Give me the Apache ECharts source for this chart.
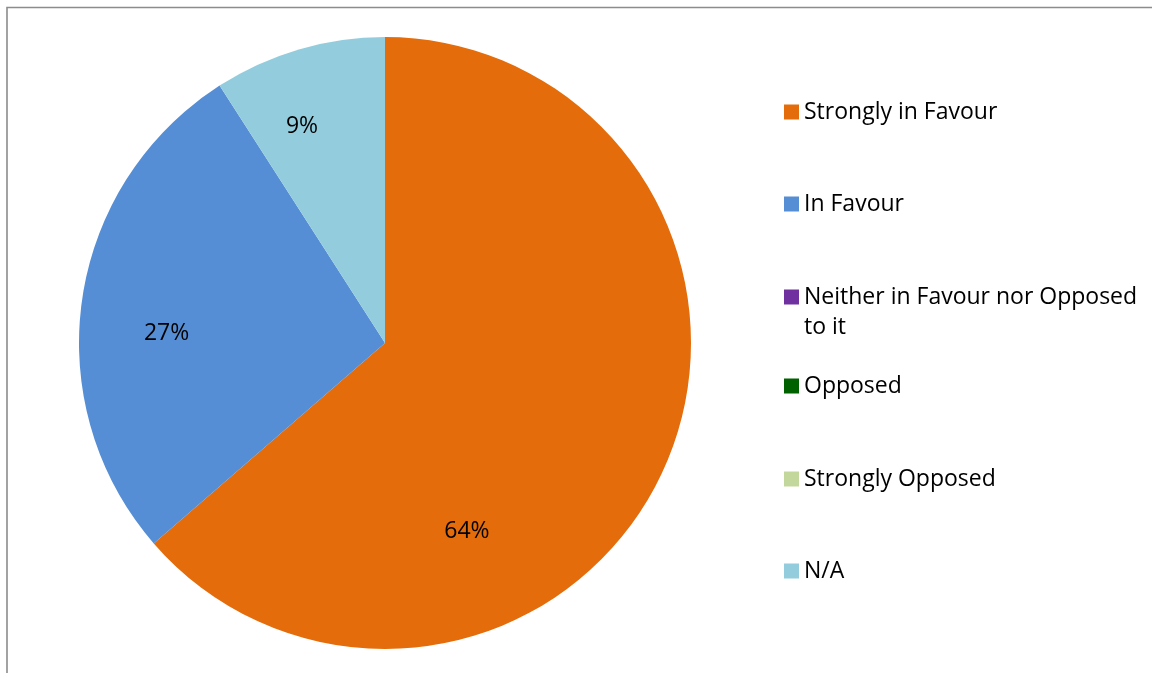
<!DOCTYPE html>
<html>
<head>
<meta charset="utf-8">
<script src="https://cdn.jsdelivr.net/npm/echarts@6/dist/echarts.min.js"></script>
<style>
  html, body { margin: 0; padding: 0; background: #fff; }
  #chart { width: 1152px; height: 673px; }
</style>
</head>
<body>
<div id="chart"></div>
<script>
const categories = ['Strongly in Favour', 'In Favour', 'Neither in Favour nor Opposed to it', 'Opposed', 'Strongly Opposed', 'N/A'];
const counts = [70, 30, 0, 0, 0, 10];
const colors = ['#E46C0A', '#558ED5', '#7030A0', '#006100', '#C3D69B', '#93CDDD'];

// legend rows - Excel puts each one at its own slot
const legendTops = [97, 189, 252, 371, 464, 556];

const chart = echarts.init(document.getElementById('chart'));

const txt = { fontFamily: 'Open Sans', fontSize: 23, color: '#000', lineHeight: 30 };

// nudges so the % labels sit roughly where Excel's best-fit put them
const labelNudge = { 0: [-60, 124], 1: [-64, 13], 5: [-39, -67] };

const option = {
  animation: false,
  backgroundColor: '#fff',
  color: colors,
  graphic: [{
    type: 'rect',
    shape: { x: 7, y: 7.5, width: 1300, height: 900 },
    style: { fill: 'none', stroke: '#8c8c8c', lineWidth: 1.6 },
    silent: true
  }],
  legend: categories.map((name, i) => ({
    data: [name],
    orient: 'vertical',
    left: 784,
    top: legendTops[i],
    padding: 0,
    icon: 'rect',
    itemWidth: 15,
    itemHeight: 15,
    selectedMode: false,
    textStyle: txt,
    formatter: n => n === categories[2] ? ' \nNeither in Favour nor Opposed\nto it' : n
  })),
  series: [{
    type: 'pie',
    center: [385, 343],
    radius: [0, 306],
    startAngle: 90,
    clockwise: true,
    avoidLabelOverlap: false,
    label: {
      show: true,
      position: 'inside',
      fontFamily: 'Open Sans',
      fontSize: 23,
      color: '#000',
      formatter: p => p.value ? Math.round(p.percent) + '%' : ''
    },
    labelLine: { show: false },
    labelLayout: p => {
      const d = labelNudge[p.dataIndex];
      return d ? { dx: d[0], dy: d[1] } : {};
    },
    emphasis: { disabled: true },
    data: categories.map((name, i) => ({ name: name, value: counts[i] }))
  }]
};

chart.setOption(option);
</script>
</body>
</html>
